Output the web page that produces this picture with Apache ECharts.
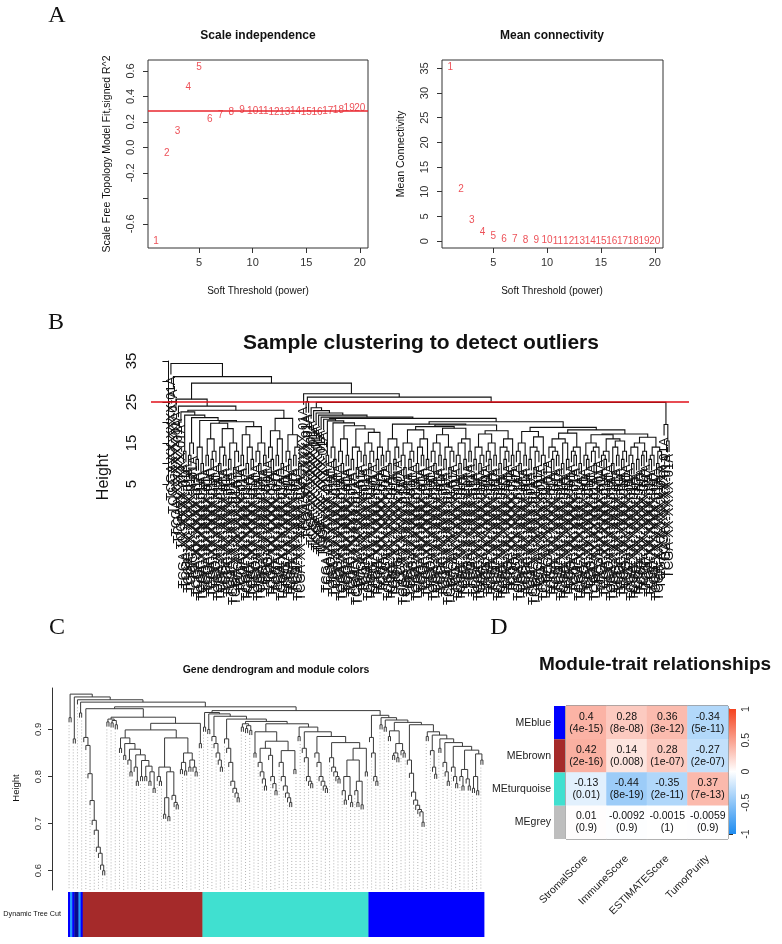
<!DOCTYPE html>
<html>
<head>
<meta charset="utf-8">
<script src="https://cdn.jsdelivr.net/npm/echarts@6/dist/echarts.min.js"></script>
<style>
  html, body { margin: 0; padding: 0; background: #fff; }
  #main { width: 782px; height: 944px; }
</style>
</head>
<body>
<div id="main"></div>
<script>
// ---------- A: soft threshold scan ----------
var powers = [1, 2, 3, 4, 5, 6, 7, 8, 9, 10, 11, 12, 13, 14, 15, 16, 17, 18, 19, 20];
var sftFit = [-0.736, -0.05, 0.126, 0.471, 0.631, 0.22, 0.254, 0.277, 0.291, 0.285,
              0.285, 0.277, 0.277, 0.283, 0.272, 0.272, 0.28, 0.288, 0.304, 0.304];
var meanK = [35.3, 10.6, 4.18, 1.85, 0.9, 0.41, 0.28, 0.18, 0.12, 0.08,
             0.06, 0.05, 0.04, 0.03, 0.03, 0.02, 0.02, 0.02, 0.01, 0.01];
var r2Cut = 0.29;
var powerTicks = [5, 10, 15, 20];
var fitTicks = [-0.6, -0.4, -0.2, 0, 0.2, 0.4, 0.6];
var fitLabels = [-0.6, -0.2, 0, 0.2, 0.4, 0.6];   // R dropped -0.4 (overlap)
var kTicks = [0, 5, 10, 15, 20, 25, 30, 35];

// ---------- B: sample tree, merge height between neighbouring samples ----------
var sampleGaps = [].concat(
  [34.4, 31.2, 25.7, 24.0],
  [22.6, 13, 21.8, 12, 15, 21.2, 11, 14, 10, 20.5, 12, 16, 11, 13, 19.8, 10,
   14, 12, 18.5, 11, 15, 9, 13, 20.2, 12, 17, 10, 14, 11, 19, 13, 10,
   15, 12, 23.0, 14, 11, 18, 12, 16, 10, 21, 13, 11, 17, 12, 14, 10],
  [29.6, 27.0, 25.1, 26.2, 23.6, 22.9, 22.3, 21.8, 21.3],
  [20.8, 12, 20.4, 14, 11, 19.9, 13, 10, 16, 12, 19.2, 11, 14, 9, 13,
   18.4, 12, 15, 10, 13, 17.6, 11, 14, 12, 21.0, 13, 10, 16, 11, 14,
   19.6, 12, 9, 15, 11, 13, 18.2, 10, 14, 12, 16, 11, 19.0, 13, 10,
   15, 12, 17, 11, 14, 9, 13, 18.6, 12, 10, 15, 11, 16, 13, 19.4,
   11, 14, 10, 12, 17.2, 13, 11, 15, 12, 18, 10, 14, 11, 13, 16,
   12, 20.2, 13, 10, 15, 12, 17.8, 11, 14, 9, 13, 16.5, 12, 10, 18.8,
   14, 11, 13, 12, 16, 10, 15, 11, 17.4, 13, 12, 14, 10, 18.2, 12,
   11, 15, 13, 10, 14, 17, 12, 11, 13, 16, 10, 14, 12, 15.5, 11,
   13, 17.2, 12, 10, 14, 11, 15, 12, 13, 16.4, 11, 12, 14, 10, 13],
  [24.9, 19.5, 15.5]
);
var sampleLabel = 'TCGA-XX-XXXX-01A';
var cutHeight = 25;
var sampleTicks = [5, 10, 15, 20, 25, 30, 35];
var sampleLabels = [5, 15, 25, 35];

// ---------- C: gene tree, written as [height, left, right], 0 = leaf ----------
function pair(h) { return [h, 0, 0]; }
function chain(hs) { var t = 0; for (var i = hs.length - 1; i >= 0; i--) t = [hs[i], 0, t]; return t; }
function stair(hs, kids) { var t = kids[kids.length - 1]; for (var i = hs.length - 1; i >= 0; i--) t = [hs[i], kids[i], t]; return t; }

var brownTree = [0.944,
  chain([0.883, 0.866, 0.806, 0.749, 0.707, 0.686, 0.650, 0.637, 0.612, 0.600]),
  [0.926,
    stair([0.922, 0.919], [pair(0.916), pair(0.914), pair(0.91)]),
    [0.913,
      [0.899,
        stair([0.882, 0.870, 0.858, 0.846, 0.834, 0.822, 0.81],
              [pair(0.86), pair(0.845), chain([0.835, 0.81]), chain([0.82, 0.79]),
               pair(0.8), pair(0.80), pair(0.79), pair(0.775)]),
        [0.882,
          [0.82, chain([0.80, 0.79]), [0.81, [0.755, pair(0.72), pair(0.715)], chain([0.76, 0.745, 0.74])]],
          [0.85, [0.83, pair(0.815), pair(0.812)], [0.835, pair(0.82), chain([0.82, 0.81])]]]],
      pair(0.87)]]];

var turquoiseTree = stair([0.936, 0.933, 0.928, 0.922, 0.917, 0.912], [
  pair(0.905), pair(0.900),
  chain([0.885, 0.87, 0.85, 0.835, 0.82]),
  chain([0.88, 0.86, 0.83, 0.79, 0.775, 0.765, 0.755]),
  stair([0.912, 0.908], [pair(0.905), pair(0.902), pair(0.898)]),
  [0.895, pair(0.85),
    [0.875,
      [0.86, chain([0.83, 0.81, 0.795, 0.78]), chain([0.845, 0.80, 0.785, 0.77])],
      [0.855, chain([0.83, 0.80, 0.78, 0.765, 0.755, 0.745]), pair(0.815)]]],
  stair([0.905, 0.895, 0.885, 0.872, 0.86], [
    pair(0.885),
    chain([0.86, 0.84, 0.80, 0.79, 0.785]),
    chain([0.85, 0.83, 0.80, 0.79, 0.78, 0.775]),
    chain([0.84, 0.82, 0.81, 0.80, 0.795]),
    [0.835, [0.80, chain([0.77, 0.75]), chain([0.76, 0.745])], [0.79, chain([0.77, 0.745]), pair(0.74)]],
    pair(0.81)])
]);

var blueTree = [0.930,
  chain([0.883, 0.85, 0.80, 0.79]),
  stair([0.925, 0.92, 0.915], [
    pair(0.91), pair(0.905),
    [0.897, pair(0.885), [0.87, [0.85, pair(0.845), pair(0.84)], chain([0.855, 0.85])]],
    [0.91,
      chain([0.835, 0.807, 0.767, 0.75, 0.739, 0.73, 0.725, 0.703]),
      stair([0.895, 0.888, 0.88, 0.872, 0.864, 0.856, 0.848], [
        pair(0.885), chain([0.855, 0.82, 0.805]), pair(0.86), chain([0.83, 0.81, 0.79]),
        chain([0.82, 0.80, 0.785]), [0.815, chain([0.80, 0.78]), chain([0.795, 0.78])],
        [0.80, pair(0.775), pair(0.77)], pair(0.835)])]])];

var geneTree = [0.975, pair(0.925), [0.969, pair(0.88), [0.963, 0,
  [0.958, pair(0.935), [0.948, brownTree, [0.94, turquoiseTree, blueTree]]]]]];

// module colour runs under the gene tree (in leaves)
var moduleRuns = [['blue', 1], ['dodgerblue', 1], ['blue', 1], ['darkblue', 2], ['dodgerblue', 1], ['blue', 1],
                  ['brown', 57], ['turquoise', 79], ['blue', 55]];
var moduleHex = { blue: '#0000FF', dodgerblue: '#1E9BFF', darkblue: '#0A0A8C', brown: '#A52A2A',
                  turquoise: '#40E0D0', grey: '#BEBEBE' };
var geneTicks = [0.6, 0.7, 0.8, 0.9];

// ---------- D: module-trait correlations ----------
var traits = ['StromalScore', 'ImmuneScore', 'ESTIMATEScore', 'TumorPurity'];
var modules = ['MEblue', 'MEbrown', 'MEturquoise', 'MEgrey'];
var moduleColors = ['blue', 'brown', 'turquoise', 'grey'];
var corBlue = [0.4, 0.28, 0.36, -0.34];
var corBrown = [0.42, 0.14, 0.28, -0.27];
var corTurquoise = [-0.13, -0.44, -0.35, 0.37];
var corGrey = [0.01, -0.0092, -0.0015, -0.0059];
var pBlue = ['4e-15', '8e-08', '3e-12', '5e-11'];
var pBrown = ['2e-16', '0.008', '1e-07', '2e-07'];
var pTurquoise = ['0.01', '8e-19', '2e-11', '7e-13'];
var pGrey = ['0.9', '0.9', '1', '0.9'];
var legendTicks = [-1, -0.5, 0, 0.5, 1];
var heatColors = ['#1E8CF0', '#FFFFFF', '#F4421E'];

// ---------- tree layout ----------
function fromGaps(g, lo, hi) {
  if (lo === hi) return 0;
  var k = lo;
  for (var i = lo + 1; i < hi; i++) if (g[i] > g[k]) k = i;
  return [g[k], fromGaps(g, lo, k), fromGaps(g, k + 1, hi)];
}
function layoutTree(t, hang) {
  var leaves = [], links = [];
  function build(n) {
    if (n === 0) { var l = { leaf: true, idx: leaves.length }; leaves.push(l); return l; }
    return { h: n[0], left: build(n[1]), right: build(n[2]) };
  }
  function place(n, ph) {
    if (n.leaf) { n.x = n.idx + 1; n.top = ph - hang; return; }
    place(n.left, n.h); place(n.right, n.h);
    n.top = n.h;
    n.x = (n.left.x + n.right.x) / 2;
    links.push({ coords: [[n.left.x, n.left.top], [n.left.x, n.h], [n.right.x, n.h], [n.right.x, n.right.top]] });
  }
  var root = build(t);
  place(root, root.h);
  return { leaves: leaves, links: links };
}

var sampleTree = layoutTree(fromGaps(sampleGaps, 0, sampleGaps.length), 2.7);
var nS = sampleTree.leaves.length;
var gene = layoutTree(geneTree, 0.01);
var nG = gene.leaves.length;

var guides = [];
gene.leaves.forEach(function (l) {
  if (l.idx % 2 === 0) guides.push({ coords: [[l.x, l.top - 0.006], [l.x, 0.559]] });
});
var barData = [], pos = 0;
moduleRuns.forEach(function (r) { barData.push([pos + 0.5, pos + r[1] + 0.5, r[0]]); pos += r[1]; });

var heatData = [];
[corBlue, corBrown, corTurquoise, corGrey].forEach(function (row, r) {
  var ps = [pBlue, pBrown, pTurquoise, pGrey][r];
  row.forEach(function (v, c) { heatData.push({ value: [c, r, v], p: ps[c] }); });
});

// ---------- chart ----------
var SANS = '"Liberation Sans", Arial, sans-serif';
var SERIF = '"Liberation Serif", "Times New Roman", serif';
var RED = '#E8262E';

function txt(x, y, s, font, rot, align) {
  return { type: 'text', x: x, y: y, rotation: rot ? Math.PI / 2 : 0,
    style: { text: s, font: font, fill: '#111', align: align || 'center', verticalAlign: 'middle' } };
}
function boxAxis(grid, min, max, ticks, labels, rotate, fontSize, margin, fmt) {
  return {
    gridIndex: grid, type: 'value', min: min, max: max,
    axisLine: { show: false, onZero: false },
    axisTick: { show: true, length: 5, customValues: ticks, lineStyle: { color: '#333' } },
    axisLabel: { customValues: labels, rotate: rotate, fontSize: fontSize, color: '#333',
                 fontFamily: SANS, margin: margin, formatter: fmt },
    splitLine: { show: false }
  };
}
function oneDecimal(v) { return v.toFixed(1); }
function powerLabel(d) { return d.data[0]; }

var chart = echarts.init(document.getElementById('main'));
chart.setOption({
  backgroundColor: '#fff',
  animation: false,
  grid: [
    { left: 148, top: 60, width: 220, height: 188, show: true, borderColor: '#333', borderWidth: 1 },
    { left: 442, top: 60, width: 221, height: 188, show: true, borderColor: '#333', borderWidth: 1 },
    { left: 151, top: 361, width: 538, height: 123 },
    { left: 68, top: 688, width: 416, height: 202 },
    { left: 68, top: 892, width: 416, height: 45 },
    { left: 566, top: 706, width: 162, height: 133, show: true, borderColor: '#333', borderWidth: 1 },
    { left: 554, top: 706, width: 11, height: 133 },
    { left: 729, top: 709, width: 7, height: 125 }
  ],
  xAxis: [
    boxAxis(0, 0.24, 20.76, powerTicks, powerTicks, 0, 11, 9),
    boxAxis(1, 0.24, 20.76, powerTicks, powerTicks, 0, 11, 9),
    { gridIndex: 2, type: 'value', min: 1 - 0.04 * (nS - 1), max: nS + 0.04 * (nS - 1), show: false },
    { gridIndex: 3, type: 'value', min: 0.5, max: nG + 0.5, show: false },
    { gridIndex: 4, type: 'value', min: 0.5, max: nG + 0.5, show: false },
    { gridIndex: 5, type: 'category', data: traits,
      axisLine: { show: false }, axisTick: { show: false },
      axisLabel: { rotate: 45, fontSize: 10.5, color: '#222', fontFamily: SANS, margin: 18, interval: 0 } },
    { gridIndex: 6, type: 'category', data: ['module'], show: false },
    { gridIndex: 7, type: 'value', min: 0, max: 1, show: false }
  ],
  yAxis: [
    boxAxis(0, -0.79, 0.686, fitTicks, fitLabels, 90, 11, 12, oneDecimal),
    boxAxis(1, -1.4, 36.7, kTicks, kTicks, 90, 11, 12),
    { gridIndex: 2, type: 'value', min: 5, max: 35,
      axisLine: { show: true, lineStyle: { color: '#111', width: 1 } },
      axisTick: { show: true, length: 6, customValues: sampleTicks, lineStyle: { color: '#111' } },
      axisLabel: { customValues: sampleLabels, rotate: 90, fontSize: 15, color: '#111', fontFamily: SANS, margin: 12 },
      splitLine: { show: false } },
    { gridIndex: 3, type: 'value', min: 0.559, max: 0.988, offset: 16,
      axisLine: { show: true, lineStyle: { color: '#333' } },
      axisTick: { show: true, length: 4, customValues: geneTicks, lineStyle: { color: '#333' } },
      axisLabel: { customValues: geneTicks, rotate: 90, fontSize: 9.5, color: '#333', fontFamily: SANS, margin: 9,
                   formatter: oneDecimal },
      splitLine: { show: false } },
    { gridIndex: 4, type: 'value', min: 0, max: 1, show: false },
    { gridIndex: 5, type: 'category', data: modules, inverse: true, show: false },
    { gridIndex: 6, type: 'category', data: modules, inverse: true,
      axisLine: { show: false }, axisTick: { show: false },
      axisLabel: { fontSize: 10.5, color: '#222', fontFamily: SANS, margin: 3 } },
    { gridIndex: 7, type: 'value', min: -1, max: 1, position: 'right',
      axisLine: { show: true, lineStyle: { color: '#333' } },
      axisTick: { show: true, length: 4, customValues: legendTicks, lineStyle: { color: '#333' } },
      axisLabel: { customValues: legendTicks, rotate: 90, fontSize: 10.5, color: '#333', fontFamily: SANS, margin: 5 },
      splitLine: { show: false } }
  ],
  visualMap: {
    type: 'continuous', min: -1, max: 1, dimension: 2, seriesIndex: 8, show: false,
    inRange: { color: heatColors }
  },
  series: [
    { type: 'scatter', xAxisIndex: 0, yAxisIndex: 0, symbolSize: 2, itemStyle: { color: 'rgba(0,0,0,0)' },
      data: powers.map(function (p, i) { return [p, sftFit[i]]; }),
      label: { show: true, position: 'inside', formatter: powerLabel,
               color: RED, fontSize: 10, fontFamily: SANS },
      markLine: { silent: true, symbol: 'none', label: { show: false },
                  lineStyle: { color: RED, width: 1.5, type: 'solid' }, data: [{ yAxis: r2Cut }] } },
    { type: 'scatter', xAxisIndex: 1, yAxisIndex: 1, symbolSize: 2, itemStyle: { color: 'rgba(0,0,0,0)' },
      data: powers.map(function (p, i) { return [p, meanK[i]]; }),
      label: { show: true, position: 'inside', formatter: powerLabel,
               color: RED, fontSize: 10, fontFamily: SANS } },
    { type: 'lines', coordinateSystem: 'cartesian2d', xAxisIndex: 2, yAxisIndex: 2, polyline: true,
      data: sampleTree.links, lineStyle: { color: '#111', width: 1.1, opacity: 1 },
      markLine: { silent: true, symbol: 'none', label: { show: false },
                  lineStyle: { color: '#E0101A', width: 1.6, type: 'solid' }, data: [{ yAxis: cutHeight }] } },
    { type: 'custom', xAxisIndex: 2, yAxisIndex: 2, clip: false,
      data: sampleTree.leaves.map(function (l) { return [l.x, l.top]; }),
      renderItem: function (params, api) {
        var p = api.coord([api.value(0), api.value(1)]);
        return { type: 'text', x: p[0], y: p[1] + 2, rotation: Math.PI / 2,
          style: { text: sampleLabel, font: '13px ' + SANS, fill: '#111', align: 'right', verticalAlign: 'middle' } };
      } },
    { type: 'lines', coordinateSystem: 'cartesian2d', xAxisIndex: 3, yAxisIndex: 3, polyline: true,
      data: guides, lineStyle: { color: '#b4b4b4', width: 1, type: [1, 2], opacity: 1 } },
    { type: 'lines', coordinateSystem: 'cartesian2d', xAxisIndex: 3, yAxisIndex: 3, polyline: true,
      data: gene.links, lineStyle: { color: '#3a3a3a', width: 1, opacity: 1 } },
    { type: 'custom', xAxisIndex: 4, yAxisIndex: 4,
      data: barData,
      renderItem: function (params, api) {
        var a = api.coord([api.value(0), 1]), b = api.coord([api.value(1), 0]);
        return { type: 'rect', shape: { x: a[0], y: a[1], width: b[0] - a[0] + 0.4, height: b[1] - a[1] },
                 style: { fill: moduleHex[barData[params.dataIndex][2]] } };
      } },
    { type: 'custom', xAxisIndex: 6, yAxisIndex: 6,
      data: modules.map(function (m, i) { return [0, i]; }),
      renderItem: function (params, api) {
        var c = api.coord([0, params.dataIndex]), s = api.size([1, 1]);
        return { type: 'rect', shape: { x: c[0] - s[0] / 2, y: c[1] - s[1] / 2, width: s[0], height: s[1] },
                 style: { fill: moduleHex[moduleColors[params.dataIndex]] } };
      } },
    { type: 'heatmap', xAxisIndex: 5, yAxisIndex: 5, data: heatData,
      label: { show: true, color: '#111', fontSize: 10.5, fontFamily: SANS, lineHeight: 12,
               formatter: function (p) { return p.data.value[2] + '\n(' + p.data.p + ')'; } } },
    { type: 'custom', xAxisIndex: 7, yAxisIndex: 7, data: [[0, 0]],
      renderItem: function (params, api) {
        var a = api.coord([0, 1]), b = api.coord([1, -1]);
        return { type: 'rect', shape: { x: a[0], y: a[1], width: b[0] - a[0], height: b[1] - a[1] },
                 style: { fill: new echarts.graphic.LinearGradient(0, 0, 0, 1, [
                   { offset: 0, color: heatColors[2] }, { offset: 0.5, color: heatColors[1] },
                   { offset: 1, color: heatColors[0] }]) } };
      } }
  ],
  graphic: [
    txt(57, 16, 'A', '24px ' + SERIF),
    txt(258, 36, 'Scale independence', 'bold 12px ' + SANS),
    txt(552, 36, 'Mean connectivity', 'bold 12px ' + SANS),
    txt(107, 154, 'Scale Free Topology Model Fit,signed R^2', '10.5px ' + SANS, true),
    txt(401, 154, 'Mean Connectivity', '10.5px ' + SANS, true),
    txt(258, 291, 'Soft Threshold (power)', '10px ' + SANS),
    txt(552, 291, 'Soft Threshold (power)', '10px ' + SANS),
    txt(56, 323, 'B', '24px ' + SERIF),
    txt(421, 343, 'Sample clustering to detect outliers', 'bold 21px ' + SANS),
    txt(104, 477, 'Height', '16px ' + SANS, true),
    txt(57, 628, 'C', '24px ' + SERIF),
    txt(499, 628, 'D', '24px ' + SERIF),
    txt(276, 670, 'Gene dendrogram and module colors', 'bold 10.5px ' + SANS),
    txt(16, 788, 'Height', '9.5px ' + SANS, true),
    txt(61, 914, 'Dynamic Tree Cut', '7.2px ' + SANS, false, 'right'),
    txt(655, 665, 'Module-trait relationships', 'bold 19px ' + SANS)
  ]
});
</script>
</body>
</html>
